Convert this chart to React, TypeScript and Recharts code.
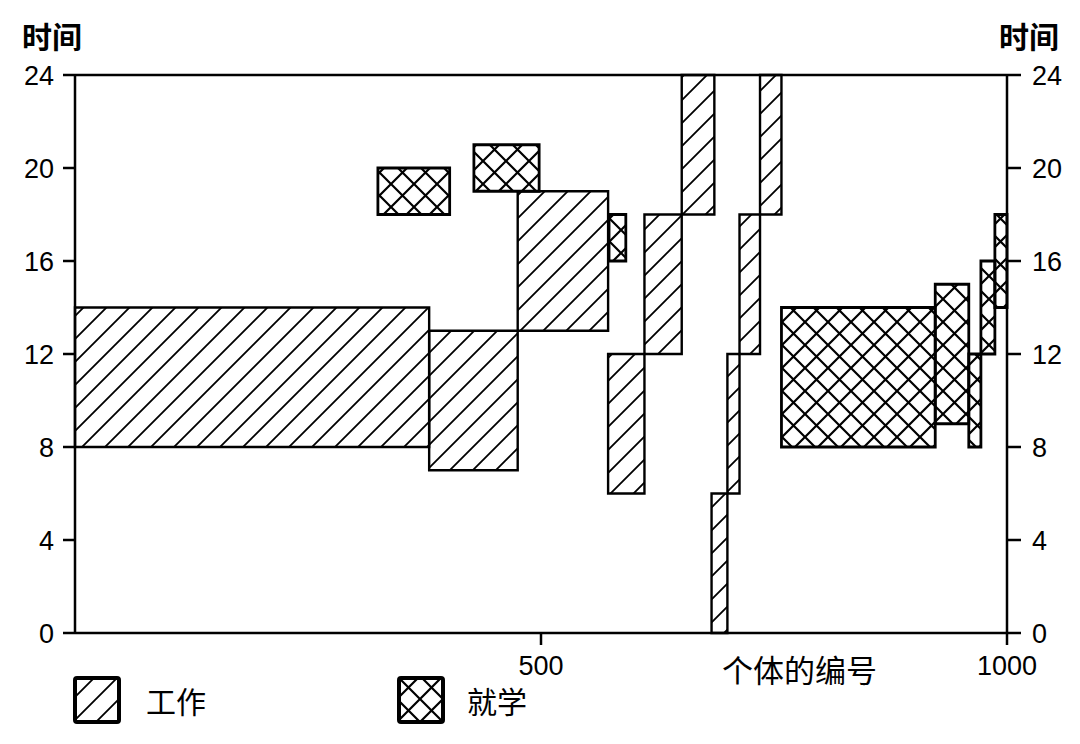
import React from "react";
import { ComposedChart, XAxis, YAxis, ReferenceArea, ReferenceLine } from "recharts";

// individual ids (x) and hours (y) of each block
const workStart = [0, 380, 475, 572, 611, 651, 683, 700, 713, 735];
const workEnd = [380, 475, 572, 611, 651, 686, 700, 713, 735, 758];
const workFrom = [8, 7, 13, 6, 12, 18, 0, 6, 12, 18];
const workTo = [14, 13, 19, 12, 18, 24, 6, 12, 18, 24];

const schoolStart = [325, 428, 573, 758, 923, 959, 972, 987];
const schoolEnd = [402, 498, 591, 923, 959, 972, 987, 1000];
const schoolFrom = [18, 19, 16, 8, 9, 8, 12, 14];
const schoolTo = [20, 21, 18, 14, 15, 12, 16, 18];

const yTicks = [0, 4, 8, 12, 16, 20, 24];
const xTicks = [500, 1000];

const numFont = "Liberation Sans, Arial, sans-serif";
const cjk = "'Noto Sans CJK SC', sans-serif";

// dummy points so the axes get a domain
const frame = [
  { x: 0, y: 0 },
  { x: 1000, y: 24 },
];

function XTick(props: any) {
  const { x, y, payload } = props;
  return (
    <text x={x} y={y} dy={23} textAnchor="middle" fontFamily={numFont} fontSize={27} fill="#000">
      {payload.value}
    </text>
  );
}

function YTick(props: any) {
  const { x, y, payload, textAnchor } = props;
  return (
    <text x={x} y={y} dy={9.5} textAnchor={textAnchor} fontFamily={numFont} fontSize={27} fill="#000">
      {payload.value}
    </text>
  );
}

function Patterns() {
  return (
    <svg width={0} height={0} style={{ position: "absolute" }}>
      <defs>
        <pattern id="work" patternUnits="userSpaceOnUse" width={23} height={23}>
          <path d="M0,23 L23,0 M-6,6 L6,-6 M17,29 L29,17" stroke="#000" strokeWidth={1.8} />
        </pattern>
        <pattern id="school" patternUnits="userSpaceOnUse" width={23} height={23}>
          <path
            d="M0,23 L23,0 M-6,6 L6,-6 M17,29 L29,17 M0,0 L23,23 M-6,17 L6,29 M17,-6 L29,6"
            stroke="#000"
            strokeWidth={2.2}
          />
        </pattern>
      </defs>
    </svg>
  );
}

function Swatch({ fill }: { fill: string }) {
  return (
    <svg width={48} height={48} style={{ display: "block" }}>
      <rect x={2} y={2} width={44} height={44} fill={fill} stroke="#000" strokeWidth={4} rx={2} />
    </svg>
  );
}

export default function App() {
  return (
    <div style={{ position: "absolute", left: 0, top: 0, width: 1080, height: 744, background: "#fff" }}>
      <Patterns />
      <ComposedChart width={1080} height={744} data={frame} margin={{ top: 75, right: 0, bottom: 81, left: 0 }}>
        <XAxis
          type="number"
          dataKey="x"
          domain={[0, 1000]}
          ticks={xTicks}
          allowDataOverflow
          height={30}
          tickSize={12}
          tickMargin={7}
          tick={<XTick />}
          axisLine={{ stroke: "#000", strokeWidth: 2.5 }}
          tickLine={{ stroke: "#000", strokeWidth: 2.5 }}
        />
        <YAxis
          yAxisId="left"
          type="number"
          dataKey="y"
          domain={[0, 24]}
          ticks={yTicks}
          allowDataOverflow
          width={75}
          tickSize={12}
          tickMargin={9}
          tick={<YTick />}
          axisLine={{ stroke: "#000", strokeWidth: 2.5 }}
          tickLine={{ stroke: "#000", strokeWidth: 2.5 }}
        />
        <YAxis
          yAxisId="right"
          orientation="right"
          type="number"
          dataKey="y"
          domain={[0, 24]}
          ticks={yTicks}
          allowDataOverflow
          width={73}
          tickSize={14}
          tickMargin={11}
          tick={<YTick />}
          axisLine={{ stroke: "#000", strokeWidth: 2.5 }}
          tickLine={{ stroke: "#000", strokeWidth: 2.5 }}
        />
        <ReferenceLine yAxisId="left" y={24} stroke="#000" strokeWidth={2.5} ifOverflow="visible" />
        {workStart.map((s, i) => (
          <ReferenceArea
            key={"w" + i}
            yAxisId="left"
            x1={s}
            x2={workEnd[i]}
            y1={workFrom[i]}
            y2={workTo[i]}
            fill="url(#work)"
            fillOpacity={1}
            stroke="#000"
            strokeWidth={2.4}
            ifOverflow="visible"
          />
        ))}
        {schoolStart.map((s, i) => (
          <ReferenceArea
            key={"s" + i}
            yAxisId="left"
            x1={s}
            x2={schoolEnd[i]}
            y1={schoolFrom[i]}
            y2={schoolTo[i]}
            fill="url(#school)"
            fillOpacity={1}
            stroke="#000"
            strokeWidth={2.8}
            ifOverflow="visible"
          />
        ))}
      </ComposedChart>

      <div style={{ position: "absolute", left: 22, top: 13, fontFamily: cjk, fontSize: 30, fontWeight: 700 }}>时间</div>
      <div style={{ position: "absolute", left: 999, top: 13, fontFamily: cjk, fontSize: 30, fontWeight: 700 }}>时间</div>
      <div style={{ position: "absolute", left: 722, top: 646, fontFamily: cjk, fontSize: 31 }}>个体的编号</div>

      <div style={{ position: "absolute", left: 73, top: 676, display: "flex", alignItems: "center" }}>
        <Swatch fill="url(#work)" />
        <span style={{ fontFamily: cjk, fontSize: 30, marginLeft: 25 }}>工作</span>
      </div>
      <div style={{ position: "absolute", left: 397, top: 676, display: "flex", alignItems: "center" }}>
        <Swatch fill="url(#school)" />
        <span style={{ fontFamily: cjk, fontSize: 30, marginLeft: 22 }}>就学</span>
      </div>
    </div>
  );
}
